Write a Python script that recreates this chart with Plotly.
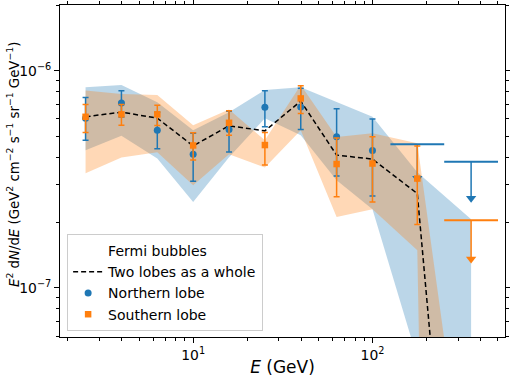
import plotly.graph_objects as go

# ---------------- data (flux values in units of 1e-6 GeV^2 cm^-2 s^-1 sr^-1 GeV^-1) -------------
UNIT = 1e-6
energy = [2.512, 3.981, 6.310, 10.0, 15.85, 25.12, 39.81, 63.10, 100.0, 177.8, 354.8]

whole = [0.614, 0.645, 0.605, 0.451, 0.558, 0.529, 0.725, 0.409, 0.392, 0.272, 0.00048]

north_y = [0.605, 0.710, 0.533, 0.413, 0.537, 0.680, 0.682, 0.497, 0.430]
north_hi = [0.754, 0.809, 0.645, 0.516, 0.652, 0.809, 0.832, 0.668, 0.599]
north_lo = [0.479, 0.612, 0.437, 0.310, 0.423, 0.552, 0.537, 0.328, 0.265]

south_y = [0.614, 0.630, 0.630, 0.453, 0.576, 0.455, 0.746, 0.372, 0.374, 0.319]
south_hi = [0.700, 0.700, 0.693, 0.518, 0.654, 0.520, 0.853, 0.490, 0.497, 0.450]
south_lo = [0.520, 0.562, 0.560, 0.388, 0.505, 0.368, 0.636, 0.263, 0.249, 0.196]

north_band_hi = [0.839, 0.859, 0.717, 0.533, 0.645, 0.815, 0.839, 0.715, 0.614, 0.341, 0.207]
north_band_lo = [0.431, 0.502, 0.395, 0.249, 0.400, 0.605, 0.505, 0.313, 0.2305, 0.0474, 1e-14]
south_band_hi = [0.811, 0.781, 0.773, 0.562, 0.664, 0.479, 0.859, 0.495, 0.516, 0.464, 0.00733]
south_band_lo = [0.337, 0.399, 0.422, 0.297, 0.413, 0.359, 0.533, 0.212, 0.2305, 0.149, 1e-14]

# upper limits
north_ul_E = [177.8, 354.8]
north_ul = [0.459, 0.381]
north_ul_len = [0.139, 0.122]
south_ul_E = [354.8]
south_ul = [0.205]
south_ul_len = [0.069]
ul_bin_lo = {177.8: 125.9, 354.8: 251.2}
ul_bin_hi = {177.8: 251.2, 354.8: 501.2}

x_major = [10, 100]
x_major_text = ["10<sup>1</sup>", "10<sup>2</sup>"]
x_minor = [2, 3, 4, 5, 6, 7, 8, 9, 20, 30, 40, 50, 60, 70, 80, 90, 200, 300, 400, 500]
y_major = [1e-7, 1e-6]
y_major_text = ["10<sup>\u22127</sup>", "10<sup>\u22126</sup>"]
y_minor = [6e-8, 7e-8, 8e-8, 9e-8, 2e-7, 3e-7, 4e-7, 5e-7, 6e-7, 7e-7, 8e-7, 9e-7, 2e-6]

BLUE = "#1f77b4"
ORANGE = "#ff7f0e"

def s(v):
    return [a * UNIT for a in v]

fig = go.Figure()

# legend heading (behaves like the legend title of the original)
fig.add_trace(go.Scatter(x=[None], y=[None], mode="markers", name="Fermi bubbles",
                         marker=dict(color="rgba(0,0,0,0)", size=1,
                                     line=dict(width=0, color="rgba(0,0,0,0)")),
                         legendrank=1, hoverinfo="skip"))

# bands
fig.add_trace(go.Scatter(
    x=energy + energy[::-1], y=s(north_band_hi + north_band_lo[::-1]),
    fill="toself", fillcolor="rgba(31,119,180,0.3)", line=dict(width=0),
    mode="lines", hoverinfo="skip", showlegend=False))
fig.add_trace(go.Scatter(
    x=energy + energy[::-1], y=s(south_band_hi + south_band_lo[::-1]),
    fill="toself", fillcolor="rgba(255,127,14,0.3)", line=dict(width=0),
    mode="lines", hoverinfo="skip", showlegend=False))

# whole
fig.add_trace(go.Scatter(
    x=energy, y=s(whole), mode="lines", name="Two lobes as a whole", legendrank=2,
    line=dict(color="black", width=1.5, dash="5px,3px")))

# northern
n = len(north_y)
fig.add_trace(go.Scatter(
    x=energy[:n], y=s(north_y), mode="markers", name="Northern lobe", legendrank=3,
    marker=dict(symbol="circle", size=7, color=BLUE),
    error_y=dict(type="data", symmetric=False,
                 array=[(h - y) * UNIT for h, y in zip(north_hi, north_y)],
                 arrayminus=[(y - l) * UNIT for l, y in zip(north_lo, north_y)],
                 color=BLUE, thickness=1.5, width=3)))

# upper limits
def add_ul(xs, vals, lens, color):
    fig.add_trace(go.Scatter(
        x=xs, y=s(vals), mode="markers", marker=dict(size=2, opacity=0),
        showlegend=False, hoverinfo="skip",
        error_x=dict(type="data", symmetric=False,
                     array=[ul_bin_hi[x] - x for x in xs],
                     arrayminus=[x - ul_bin_lo[x] for x in xs],
                     color=color, thickness=2, width=0),
        error_y=dict(type="data", symmetric=False,
                     array=[0 for _ in xs], arrayminus=s(lens),
                     color=color, thickness=1.5, width=0)))
    fig.add_trace(go.Scatter(
        x=xs, y=[(v - l) * UNIT for v, l in zip(vals, lens)], mode="markers",
        marker=dict(symbol="triangle-down", size=9, color=color),
        showlegend=False, hoverinfo="skip"))

add_ul(north_ul_E, north_ul, north_ul_len, BLUE)

# southern
m = len(south_y)
fig.add_trace(go.Scatter(
    x=energy[:m], y=s(south_y), mode="markers", name="Southern lobe", legendrank=4,
    marker=dict(symbol="square", size=6.5, color=ORANGE),
    error_y=dict(type="data", symmetric=False,
                 array=[(h - y) * UNIT for h, y in zip(south_hi, south_y)],
                 arrayminus=[(y - l) * UNIT for l, y in zip(south_lo, south_y)],
                 color=ORANGE, thickness=1.5, width=3)))

add_ul(south_ul_E, south_ul, south_ul_len, ORANGE)

axis_common = dict(showline=True, linecolor="black", linewidth=1, mirror="allticks",
                   ticks="outside", ticklen=5, tickwidth=1, tickcolor="black",
                   showgrid=False, zeroline=False, automargin=False)

fig.update_xaxes(type="log", range=[0.2574, 2.739], tickvals=x_major, ticktext=x_major_text,
                 title=dict(text="<i>E</i> (GeV)", standoff=4),
                 minor=dict(ticks="outside", ticklen=3, tickwidth=0.8, tickcolor="black",
                            tickvals=x_minor, showgrid=False),
                 **axis_common)
fig.update_yaxes(type="log", range=[-7.226, -5.697], tickvals=y_major, ticktext=y_major_text,
                 minor=dict(ticks="outside", ticklen=3, tickwidth=0.8, tickcolor="black",
                            tickvals=y_minor, showgrid=False),
                 **axis_common)

fig.add_annotation(
    text="<i>E</i><sup>2</sup> d<i>N</i>/d<i>E</i> (GeV<sup>2</sup> cm<sup>\u22122</sup> s<sup>\u22121</sup> sr<sup>\u22121</sup> GeV<sup>\u22121</sup>)",
    xref="paper", yref="paper", x=0, y=0.5, xanchor="center", yanchor="middle",
    xshift=-47, yshift=6, textangle=-90, showarrow=False, font=dict(size=13.3))

fig.update_layout(
    width=510, height=377,
    margin=dict(l=60, r=5, t=5, b=40),
    plot_bgcolor="white", paper_bgcolor="white",
    font=dict(family="DejaVu Sans", size=13.9, color="black"),
    legend=dict(x=0.016, y=0.018, xanchor="left", yanchor="bottom",
                bgcolor="rgba(255,255,255,0.8)", bordercolor="#cccccc", borderwidth=1,
                font=dict(size=14),
                tracegroupgap=0, itemwidth=30, traceorder="normal"),
)

fig.write_html("out.html", config={"displayModeBar": False},
               post_script="document.body.style.margin='0';document.body.style.overflow='hidden';")
